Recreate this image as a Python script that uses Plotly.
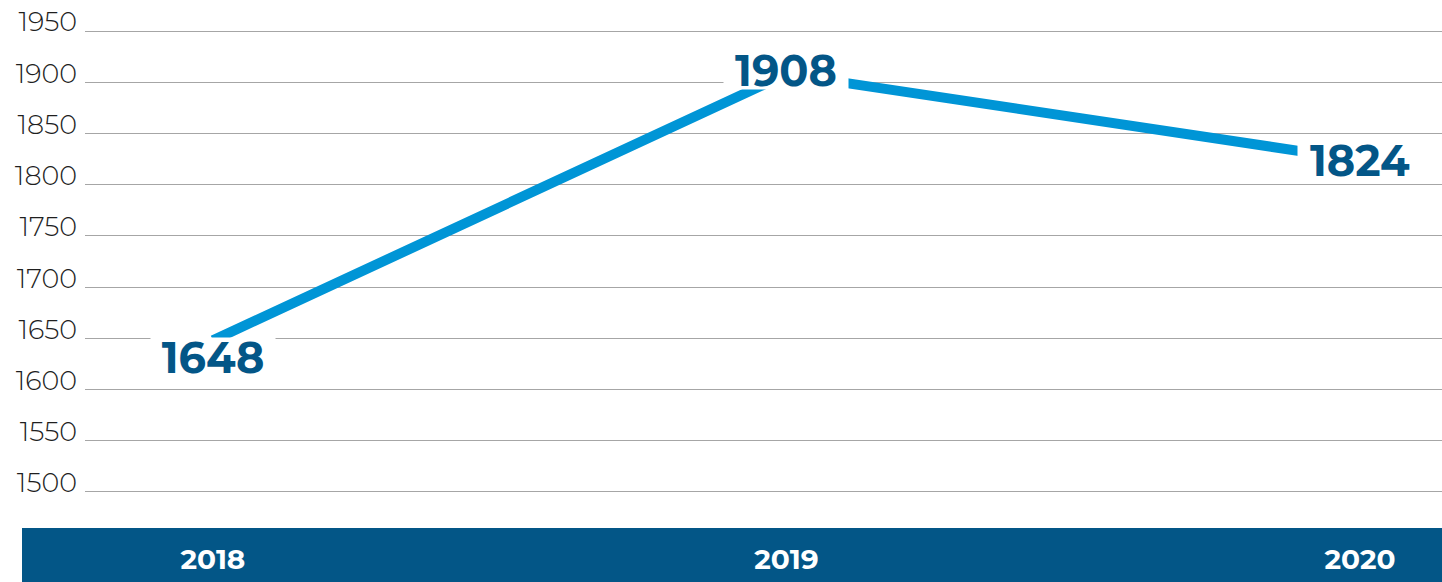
import plotly.graph_objects as go

# Yearly totals
years = ["2018", "2019", "2020"]
totals = [1648, 1908, 1824]

# Y axis ticks
y_ticks = [1500, 1550, 1600, 1650, 1700, 1750, 1800, 1850, 1900, 1950]

# Vertical nudge of each value label relative to its point
label_shift = [-17, 4, 0]

LINE_BLUE = "#0095d6"
DARK_BLUE = "#035687"
GRID_GREY = "#a6a6a6"
FONT = "Montserrat, Inter, Lato, sans-serif"

W, H = 1442, 582
M_L, M_R, M_T, M_B = 85, 0, 30, 89
plot_w = W - M_L - M_R
plot_h = H - M_T - M_B
BAND_TOP = 528  # top edge of the year band, in pixels from the top

fig = go.Figure()

fig.add_trace(go.Scatter(
    x=years,
    y=totals,
    mode="lines",
    line=dict(color=LINE_BLUE, width=10),
    hoverinfo="skip",
    showlegend=False,
))

# Value labels sit on the points; a compact white box breaks the line around them
for i, (val, dy) in enumerate(zip(totals, label_shift)):
    fig.add_annotation(
        x=i, y=val, xref="x", yref="y",
        text=f"<b>{val}</b>",
        showarrow=False,
        yshift=dy,
        width=124, height=38,
        font=dict(family=FONT, size=43, color=DARK_BLUE),
        bgcolor="white",
        borderpad=0,
    )

# Dark band behind the year labels
fig.add_shape(
    type="rect", xref="paper", yref="paper", layer="below",
    x0=(22 - M_L) / plot_w, x1=1.0,
    y0=-M_B / plot_h,
    y1=-(BAND_TOP - (M_T + plot_h)) / plot_h,
    fillcolor=DARK_BLUE, line=dict(width=0),
)

fig.update_layout(
    width=W, height=H,
    margin=dict(l=M_L, r=M_R, t=M_T, b=M_B),
    paper_bgcolor="white",
    plot_bgcolor="white",
    font=dict(family=FONT),
    xaxis=dict(
        type="category",
        range=[-0.223, 2.143],
        showgrid=False, zeroline=False, showline=False,
        ticks="",
        tickfont=dict(size=28, color="white", family=FONT, weight="bold"),
        ticklabelstandoff=47,
    ),
    yaxis=dict(
        range=[1499, 1951],
        tickvals=y_ticks,
        ticktext=[str(v) for v in y_ticks],
        showgrid=True, gridcolor=GRID_GREY, gridwidth=1,
        zeroline=False, showline=False, ticks="",
        tickfont=dict(size=27, color="#1f1f1f", family=FONT, weight=300),
        ticklabelshift=-9,
        ticklabelstandoff=7,
    ),
)

fig.write_html("out.html")
